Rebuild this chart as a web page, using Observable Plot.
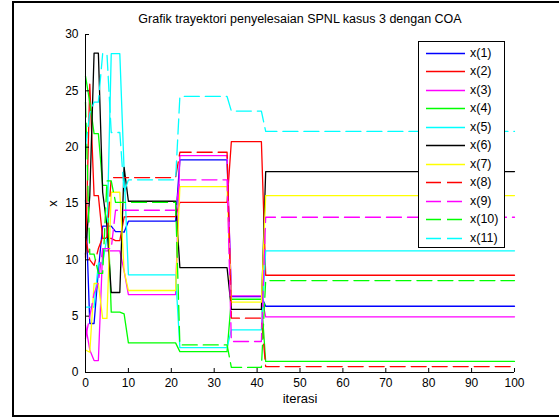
<!DOCTYPE html>
<html><head><meta charset="utf-8">
<script src="https://cdn.jsdelivr.net/npm/d3@7"></script>
<script src="https://cdn.jsdelivr.net/npm/@observablehq/plot@0.6"></script>
<style>
html,body{margin:0;padding:0;overflow:hidden;background:#fff;}
#wrap{position:relative;width:559px;height:417px;font-family:"Liberation Sans",Arial,sans-serif;}
#wrap svg.plot{position:absolute;left:0;top:0;}
#frame{position:absolute;left:12px;top:1px;width:600px;height:412px;border:2px solid #000;border-right:none;pointer-events:none;}
#legend{position:absolute;left:418px;top:41px;width:87px;height:207px;box-sizing:border-box;border:1px solid #000;background:#fff;}
.row{position:absolute;left:0;height:18px;width:86px;}
.row svg{position:absolute;left:7px;top:4px;}
.row span{position:absolute;left:51px;top:1px;font-size:12.5px;line-height:16px;color:#000;}
</style></head><body><div id="wrap"><div id="frame"></div></div>
<script>
const titleText = "Grafik trayektori penyelesaian SPNL kasus 3 dengan COA";
const xLabel = "iterasi";
const yLabel = "x";
const iterations = [0,1,2,3,4,5,6,7,8,9,10,21,22,33,34,41,42,100];
const seriesNames = ["x(1)","x(2)","x(3)","x(4)","x(5)","x(6)","x(7)","x(8)","x(9)","x(10)","x(11)"];
const seriesColors = ["#0000ff","#ff0000","#ff00ff","#00ff00","#00ffff","#000000","#ffff00","#ff0000","#ff00ff","#00ff00","#00ffff"];
const seriesDashed = [false,false,false,false,false,false,false,true,true,true,true];
const x1  = [15.3, 4.35, 4.35, 9.05, 13.0, 13.0, 13.0, 12.5, 12.5, 12.45, 13.43, 13.43, 18.87, 18.87, 6.74, 6.74, 5.88, 5.88];
const x2  = [10.2, 25.6, 15.7, 15.7, 11.9, 11.9, 11.9, 11.7, 11.7, 13.8, 13.84, 13.84, 15.1, 15.1, 20.5, 20.5, 8.63, 8.63];
const x3  = [4.2, 2.0, 1.06, 1.06, 10.8, 10.8, 10.8, 10.8, 10.8, 9.0, 6.92, 6.92, 19.25, 19.25, 6.8, 6.8, 4.94, 4.94];
const x4  = [26.3, 24.0, 21.2, 21.2, 16.6, 16.6, 5.35, 5.35, 5.35, 5.2, 2.63, 2.63, 1.85, 1.85, 6.5, 6.5, 0.98, 0.98];
const x5  = [5.8, 5.8, 5.8, 9.7, 9.7, 12.0, 28.3, 28.3, 28.3, 18.0, 8.67, 8.67, 2.2, 2.2, 3.79, 3.79, 10.8, 10.8];
const x6  = [10.5, 15.7, 28.35, 28.35, 16.0, 13.0, 7.1, 7.1, 7.1, 18.2, 15.2, 15.2, 9.3, 9.3, 5.6, 5.6, 17.83, 17.83];
const x7  = [2.0, 1.8, 7.9, 7.9, 4.8, 4.8, 16.0, 16.0, 16.0, 9.0, 7.28, 7.28, 16.5, 16.5, 6.24, 6.24, 15.7, 15.7];
const x8  = [12.0, 10.0, 9.5, 11.0, 12.0, 12.0, 17.3, 17.3, 17.3, 17.3, 17.3, 17.3, 19.55, 19.55, 4.82, 4.82, 0.53, 0.53];
const x9  = [3.0, 5.0, 7.0, 8.0, 11.0, 11.0, 11.0, 14.4, 14.4, 14.4, 14.4, 14.4, 17.1, 17.1, 2.75, 2.75, 13.78, 13.78];
const x10 = [24.0, 10.5, 10.5, 8.8, 8.8, 17.0, 17.0, 15.1, 15.1, 15.1, 15.1, 15.1, 2.45, 2.45, 0.45, 0.45, 8.16, 8.16];
const x11 = [20.0, 23.0, 24.0, 24.0, 28.3, 28.3, 21.3, 21.3, 21.3, 16.0, 17.1, 17.1, 24.5, 24.5, 23.2, 23.2, 21.4, 21.4];
const seriesValues = [x1,x2,x3,x4,x5,x6,x7,x8,x9,x10,x11];
const xTicks = [0,10,20,30,40,50,60,70,80,90,100];
const yTicks = [0,5,10,15,20,25,30];
const dashPattern = "15,6";
const lineWidth = 1.3;

const tables = seriesValues.map((vals, s) => vals.map((v, i) => ({iter: iterations[i], value: v, series: seriesNames[s]})));

const lineMarks = tables.map((t, s) => Plot.line(t, {
  x: "iter", y: "value",
  stroke: seriesColors[s], strokeWidth: lineWidth,
  strokeDasharray: seriesDashed[s] ? dashPattern : null
}));

const chart = Plot.plot({
  width: 559, height: 417,
  marginLeft: 85, marginRight: 45, marginTop: 34, marginBottom: 45,
  style: {fontFamily: '"Liberation Sans", Arial, sans-serif', fontSize: "12px", color: "#000", background: "transparent", overflow: "visible"},
  x: {domain: [0, 100], label: null},
  y: {domain: [0, 30], label: null},
  marks: [
    ...lineMarks,
    Plot.ruleX([0], {stroke: "#000"}),
    Plot.ruleY([0], {stroke: "#000"}),
    Plot.axisX({ticks: xTicks, tickSize: -4, tickPadding: 10, label: null, fontSize: 12}),
    Plot.axisY({ticks: yTicks, tickSize: -4, tickPadding: 11, label: null, fontSize: 12}),
    Plot.text([titleText], {frameAnchor: "top", lineAnchor: "middle", textAnchor: "middle", dy: -15.5, fontSize: 12.5, fill: "#000"}),
    Plot.text([xLabel], {frameAnchor: "bottom", lineAnchor: "middle", textAnchor: "middle", dy: 26.5, fontSize: 13, fill: "#000"}),
    Plot.text([yLabel], {frameAnchor: "left", lineAnchor: "middle", textAnchor: "middle", dx: -33, rotate: -90, fontSize: 13, fill: "#000"})
  ]
});
chart.classList.add("plot");
const wrap = document.getElementById("wrap");
wrap.insertBefore(chart, wrap.firstChild);

// legend
const legend = d3.select(wrap).append("div").attr("id", "legend");
seriesNames.forEach((name, i) => {
  const row = legend.append("div").attr("class", "row").style("top", (10.7 + i * 18.5 - 9) + "px");
  const s = row.append("svg").attr("width", 40).attr("height", 11);
  s.append("line").attr("x1", 0).attr("x2", 39).attr("y1", 5.5).attr("y2", 5.5)
    .attr("stroke", seriesColors[i]).attr("stroke-width", 1.6)
    .attr("stroke-dasharray", seriesDashed[i] ? dashPattern : null);
  row.append("span").text(name);
});
</script></body></html>
